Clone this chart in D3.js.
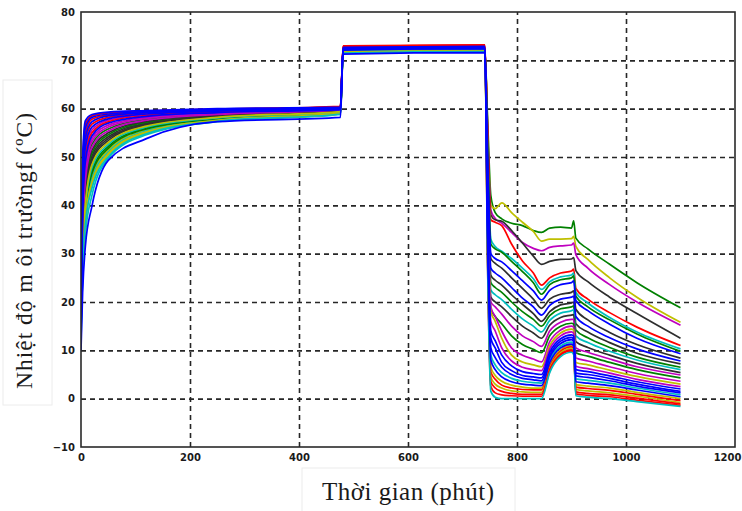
<!DOCTYPE html>
<html>
<head>
<meta charset="utf-8">
<script src="https://cdn.jsdelivr.net/npm/d3@7"></script>
<style>
  body { margin: 0; background: #fff; }
  svg { display: block; }
</style>
</head>
<body>
<svg id="chart" width="742" height="511"></svg>
<script>
// Sampling instants (minutes) shared by every sensor trace
const minutes = [0, 3, 8, 20, 50, 120, 250, 476, 481, 741, 746, 752, 760, 772, 790, 810, 830, 845, 860, 880, 900, 904, 908, 930, 970, 1020, 1100];

// Temperature (°C) recorded by each sensor at the instants above
const sensor01 = [24, 35, 46, 52.6, 55.8, 57.8, 58.9, 59.7, 72.4, 72.3, 58, 42, 38.5, 37.2, 36.3, 35.8, 34.8, 34.4, 35.3, 35.5, 35.3, 36.8, 33.2, 31, 27.8, 24, 18.8];
const sensor02 = [20, 29, 38, 46, 51.4, 55.6, 57.8, 59.2, 72, 72.2, 57, 40, 39.3, 40.5, 38.5, 36.5, 34.6, 32.6, 33, 33, 33.1, 33.6, 31.5, 28.8, 25, 21, 15.8];
const sensor03 = [22, 37, 48, 53.8, 56.6, 58.2, 59.1, 59.9, 72.3, 72.5, 56, 39, 37.3, 36.3, 34.4, 32.3, 31.1, 30.6, 31.3, 31.6, 31.8, 32.2, 29.8, 27, 23.6, 20, 15.2];
const sensor04 = [18, 33, 42, 50.2, 54.2, 57, 58.5, 59.6, 72.1, 72.3, 56, 38, 37, 36.7, 34.8, 32.2, 29.5, 27.8, 28.4, 28.8, 28.9, 29.2, 26.5, 24.2, 21, 17.6, 12.5];
const sensor05 = [25, 48, 56.8, 58.5, 59.1, 59.5, 59.9, 60.5, 73, 73.2, 55, 37, 36.5, 35.8, 32, 28.5, 26, 23.5, 25, 26, 26.4, 26.8, 22.8, 20.6, 17.8, 14.8, 11];
const sensor06 = [15, 25, 34, 42, 49.7, 54.6, 57.3, 58.8, 71.8, 72, 52, 33, 31.5, 30.5, 29, 27, 24.8, 22.6, 24.2, 25.2, 25.6, 26, 22, 19.8, 16.8, 13.8, 10.3];
const sensor07 = [19, 33, 43, 50.8, 54.6, 57.2, 58.6, 59.6, 72.2, 72.4, 52, 32, 31, 30.3, 28.4, 26.3, 24, 21.6, 23.6, 24.6, 25, 25.4, 21.2, 19, 16.3, 13.4, 9.8];
const sensor08 = [16, 46, 56, 58.2, 58.9, 59.4, 59.8, 60.2, 72.6, 72.8, 50, 30, 29, 28.3, 26.5, 24.4, 22.3, 20.4, 22.4, 23.6, 24, 24.4, 20.3, 18.2, 15.4, 12.5, 9.3];
const sensor09 = [21, 32, 40.5, 49, 53.4, 56.6, 58.3, 59.4, 71.9, 72.1, 50, 29, 28, 27, 25, 22.8, 20.6, 18.7, 20.6, 21.6, 22, 22.3, 18.5, 16.3, 13.7, 11.2, 8.4];
const sensor10 = [10, 22, 31.5, 39.8, 49.3, 53.8, 57.3, 58.2, 71.3, 71.6, 48, 27, 26, 25, 23, 20.8, 19, 17.3, 19.3, 20.6, 21, 21.2, 17, 15, 12.6, 10.3, 7.8];
const sensor11 = [17, 32, 41, 49.6, 53.8, 56.8, 58.4, 59.5, 72, 72.2, 47, 25.5, 24.5, 23.5, 21.5, 19.5, 17.6, 16, 18, 19.4, 19.8, 20, 15.5, 13.8, 11.6, 9.4, 7.2];
const sensor12 = [23, 30, 39, 47.2, 52.2, 56, 58, 59.2, 71.8, 72.1, 46, 24, 23, 22, 20, 18, 16.4, 15, 17.2, 18.6, 19, 19.2, 14.2, 12.6, 10.6, 8.6, 6.5];
const sensor13 = [14, 29, 37.5, 45.4, 51, 55.4, 57.7, 59, 71.6, 71.9, 45, 22.5, 21.5, 20.5, 18.5, 16.5, 15, 13.8, 16.2, 17.7, 18.2, 18.4, 13, 11.6, 9.8, 8, 6];
const sensor14 = [20, 34, 44, 51.4, 55, 57.4, 58.7, 59.7, 72.2, 72.4, 44, 21, 20, 19, 17, 15, 13.6, 12.5, 15.2, 16.8, 17.3, 17.4, 11.8, 10.6, 9, 7.3, 5.4];
const sensor15 = [26, 40, 51, 55.6, 57.6, 58.8, 59.4, 60, 72.5, 72.6, 43, 20, 19, 17.5, 15, 13, 11.8, 10.8, 14, 15.8, 16.4, 16.4, 10.5, 9.6, 8.2, 6.6, 4.9];
const sensor16 = [18, 30, 38.5, 46.6, 51.8, 55.8, 57.9, 59.3, 71.9, 72.2, 42, 18.5, 17, 15.5, 13, 11.2, 10.2, 9.5, 13, 15, 15.6, 15.4, 9.5, 8.8, 7.5, 6, 4.3];
const sensor17 = [21, 35, 45, 52, 55.4, 57.6, 58.8, 59.8, 72.3, 72.5, 40, 19, 17, 14, 10.5, 9, 8.2, 7.6, 11.8, 14.2, 15, 14.8, 8.4, 7.8, 6.6, 5.2, 3.6];
const sensor18 = [16, 27, 36.5, 44.2, 50.4, 55, 57.5, 58.9, 71.7, 71.9, 40, 18, 16, 12.5, 9, 7.6, 7, 6.6, 11, 13.6, 14.4, 14.2, 7.5, 7, 5.9, 4.6, 3];
const sensor19 = [24, 36, 47, 53.2, 56.2, 58, 59, 59.8, 72.4, 72.6, 38, 16, 14, 10.5, 7.8, 6.5, 6, 5.8, 10.3, 13, 13.8, 13.5, 6.7, 6.2, 5.3, 4, 2.5];
const sensor20 = [22, 50, 57.5, 58.8, 59.3, 59.6, 60, 60.3, 72.7, 72.9, 38, 14, 12, 9, 6.8, 5.6, 5.2, 5, 9.6, 12.4, 13.2, 12.9, 6, 5.6, 4.7, 3.5, 2];
const sensor21 = [19, 44, 54, 57.3, 58.5, 59.2, 59.7, 60.1, 72.5, 72.7, 36, 12.5, 10.5, 7.5, 5.8, 4.8, 4.5, 4.3, 9, 11.9, 12.7, 12.3, 5.3, 5, 4.2, 3, 1.5];
const sensor22 = [17, 41, 52, 56.2, 57.9, 58.9, 59.5, 59.9, 72.3, 72.5, 36, 10.5, 8.5, 6.5, 5, 4.2, 3.9, 3.7, 8.5, 11.4, 12.2, 11.8, 4.7, 4.4, 3.7, 2.6, 1.2];
const sensor23 = [27, 31, 39.5, 47.8, 52.6, 56.2, 58.1, 59.3, 71.9, 72.1, 34, 9, 7, 5.4, 4.2, 3.6, 3.3, 3.2, 8, 10.9, 11.7, 11.3, 4.1, 3.8, 3.2, 2.2, 0.8];
const sensor24 = [13, 38, 49, 54.4, 57, 58.4, 59.2, 59.8, 72.1, 72.4, 34, 8, 6, 4.5, 3.5, 3, 2.8, 2.7, 7.5, 10.5, 11.3, 10.9, 3.5, 3.2, 2.7, 1.8, 0.4];
const sensor25 = [20, 31, 40, 48.4, 53, 56.4, 58.2, 59.4, 71.8, 72, 32, 6.5, 4.8, 3.6, 2.8, 2.4, 2.2, 2.2, 7.1, 10.1, 11, 10.5, 2.9, 2.6, 2.2, 1.3, 0];
const sensor26 = [23, 46, 55, 57.8, 58.7, 59.3, 59.8, 60.4, 72.9, 73.1, 32, 5.5, 4, 2.8, 2.2, 1.9, 1.8, 1.8, 6.7, 9.8, 10.7, 10.2, 2.4, 2.1, 1.7, 0.9, -0.4];
const sensor27 = [15, 28, 37, 44.8, 50.7, 55.2, 57.6, 59.1, 71.6, 71.8, 30, 4.5, 3, 2.2, 1.6, 1.4, 1.3, 1.3, 6.3, 9.5, 10.4, 9.9, 1.9, 1.6, 1.2, 0.5, -0.8];
const sensor28 = [18, 39, 50, 55, 57.3, 58.6, 59.3, 60, 72.8, 73, 30, 3.5, 2.2, 1.5, 1.1, 0.9, 0.9, 0.9, 6, 9.2, 10.1, 9.6, 1.4, 1.1, 0.8, 0.1, -1.1];
const sensor29 = [21, 42, 53, 56.8, 58.2, 59.1, 59.6, 60.2, 72.8, 73.1, 28, 2.5, 1.2, 0.8, 0.6, 0.5, 0.5, 0.5, 5.7, 9, 9.9, 9.4, 1, 0.7, 0.4, -0.3, -1.4];
const sensor30 = [12, 27, 36, 43.5, 50, 54.8, 57.4, 58.9, 71.5, 71.8, 28, 1.5, 0.3, 0, 0, 0, 0, 0, 5.4, 8.7, 9.6, 9.1, 0.6, 0.3, 0, -0.6, -1.6];

// Axis ticks and titles
const xTickValues = [0, 200, 400, 600, 800, 1000, 1200];
const yTickValues = [-10, 0, 10, 20, 30, 40, 50, 60, 70, 80];
const xTitle = "Thời gian (phút)";
const yTitle = "Nhiệt độ m ôi trườngf (ºC)";

const sensors = [sensor01, sensor02, sensor03, sensor04, sensor05, sensor06, sensor07, sensor08, sensor09, sensor10,
                 sensor11, sensor12, sensor13, sensor14, sensor15, sensor16, sensor17, sensor18, sensor19, sensor20,
                 sensor21, sensor22, sensor23, sensor24, sensor25, sensor26, sensor27, sensor28, sensor29, sensor30];

// ---- styling ----
const palette = { b: "#0000ff", g: "#008000", r: "#ff0000", c: "#00bfbf", m: "#bf00bf", y: "#bfbf00", k: "#2e2e2e" };
const traceColor = ["g","y","m","k","r","c","g","b","k","b","k","g","c","k","m","g","m","y","m","b","b","b","c","b","y","r","y","r","r","c"];

const svg = d3.select("#chart");
const plot = { left: 81, right: 735, top: 12, bottom: 447 };

const x = d3.scaleLinear().domain([0, 1200]).range([plot.left, plot.right]);
const y = d3.scaleLinear().domain([-10, 80]).range([plot.bottom, plot.top]);

svg.append("defs").append("clipPath").attr("id", "plot-clip")
  .append("rect")
  .attr("x", plot.left).attr("y", plot.top)
  .attr("width", plot.right - plot.left).attr("height", plot.bottom - plot.top);

// Dashed grid
const gridColor = "#262626";
const yGrid = svg.append("g")
  .attr("transform", `translate(${plot.left},0)`)
  .call(d3.axisLeft(y).tickValues(yTickValues.filter(v => v > -10 && v < 80))
    .tickSize(-(plot.right - plot.left)).tickFormat(""));
yGrid.select(".domain").remove();
yGrid.selectAll("line").attr("stroke", gridColor).attr("stroke-width", 1.6).attr("stroke-dasharray", "5,4");

const xGrid = svg.append("g")
  .attr("transform", `translate(0,${plot.bottom})`)
  .call(d3.axisBottom(x).tickValues(xTickValues.filter(v => v > 0 && v < 1200))
    .tickSize(-(plot.bottom - plot.top)).tickFormat(""));
xGrid.select(".domain").remove();
xGrid.selectAll("line").attr("stroke", gridColor).attr("stroke-width", 1.6).attr("stroke-dasharray", "5,4");

// Sensor traces (blue ones drawn last so they sit on top)
const line = d3.line()
  .x((d, i) => x(minutes[i]))
  .y(d => y(d))
  .curve(d3.curveMonotoneX);

const order = d3.range(sensors.length).sort((a, b) =>
  (traceColor[a] === "b") - (traceColor[b] === "b") || a - b);

svg.append("g").attr("clip-path", "url(#plot-clip)")
  .selectAll("path")
  .data(order)
  .join("path")
  .attr("d", i => line(sensors[i]))
  .attr("fill", "none")
  .attr("stroke", i => palette[traceColor[i]])
  .attr("stroke-width", 1.7)
  .attr("stroke-linejoin", "round");

// Frame
svg.append("rect")
  .attr("x", plot.left).attr("y", plot.top)
  .attr("width", plot.right - plot.left).attr("height", plot.bottom - plot.top)
  .attr("fill", "none").attr("stroke", "#2a2a2a").attr("stroke-width", 1.6);

// Tick labels
const tickFont = "'DejaVu Sans', sans-serif";
const yAxis = svg.append("g")
  .attr("transform", `translate(${plot.left},0)`)
  .call(d3.axisLeft(y).tickValues(yTickValues).tickSize(0).tickPadding(6));
yAxis.select(".domain").remove();
yAxis.selectAll("text").attr("font-family", tickFont).attr("font-size", 10)
  .attr("font-weight", "bold").attr("fill", "#1a1a1a");

const xAxis = svg.append("g")
  .attr("transform", `translate(0,${plot.bottom})`)
  .call(d3.axisBottom(x).tickValues(xTickValues).tickFormat(d3.format("d")).tickSize(0).tickPadding(7));
xAxis.select(".domain").remove();
xAxis.selectAll("text").attr("font-family", tickFont).attr("font-size", 10)
  .attr("font-weight", "bold").attr("fill", "#1a1a1a");
// keep the last label inside the page edge
xAxis.selectAll(".tick").filter(d => d === 1200).select("text")
  .attr("text-anchor", "end").attr("dx", 6);

// Axis titles in their light boxes
svg.append("rect").attr("x", 3).attr("y", 80).attr("width", 49).attr("height", 325)
  .attr("fill", "#fff").attr("stroke", "#ececec");
svg.append("text")
  .attr("transform", "translate(32,251) rotate(-90)")
  .attr("text-anchor", "middle")
  .attr("font-family", "'Liberation Serif', 'Times New Roman', serif")
  .attr("font-size", 23.5).attr("fill", "#1a1a1a")
  .attr("textLength", 276).attr("lengthAdjust", "spacing")
  .text(yTitle);

svg.append("rect").attr("x", 302).attr("y", 468).attr("width", 213).attr("height", 45)
  .attr("fill", "#fff").attr("stroke", "#ececec");
svg.append("text")
  .attr("x", (plot.left + plot.right) / 2).attr("y", 500)
  .attr("text-anchor", "middle")
  .attr("font-family", "'Liberation Serif', 'Times New Roman', serif")
  .attr("font-size", 25).attr("fill", "#1a1a1a")
  .attr("textLength", 172).attr("lengthAdjust", "spacing")
  .text(xTitle);
</script>
</body>
</html>
